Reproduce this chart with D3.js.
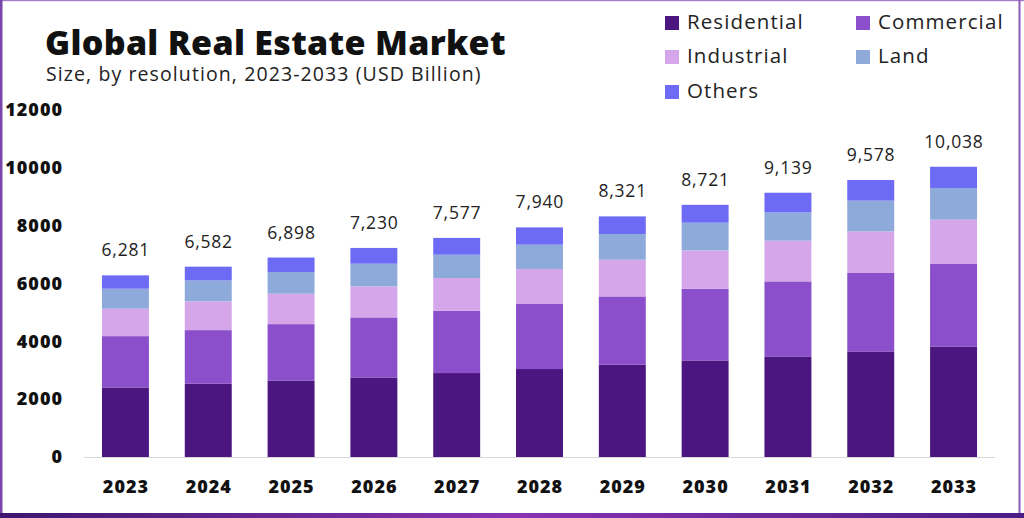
<!DOCTYPE html>
<html>
<head>
<meta charset="utf-8">
<script src="https://cdn.jsdelivr.net/npm/d3@7"></script>
<style>
  html, body { margin: 0; padding: 0; background: #fff; }
  svg { display: block; }
</style>
</head>
<body>
<svg id="chart" width="1024" height="518"></svg>
<script>
const years = ["2023","2024","2025","2026","2027","2028","2029","2030","2031","2032","2033"];
const totals = [6281, 6582, 6898, 7230, 7577, 7940, 8321, 8721, 9139, 9578, 10038];
const residential = [2405, 2533, 2647, 2751, 2903, 3042, 3190, 3339, 3478, 3651, 3823];
const commercial  = [1775, 1855, 1948, 2076, 2156, 2249, 2363, 2481, 2595, 2713, 2851];
const industrial  = [ 948,  993, 1052, 1073, 1131, 1211, 1270, 1325, 1408, 1439, 1533];
const land        = [ 692,  727,  747,  785,  806,  841,  889,  958,  979, 1062, 1097];
const others      = [ 461,  474,  504,  545,  581,  597,  609,  618,  679,  713,  734];
const seriesNames = ["Residential", "Commercial", "Industrial", "Land", "Others"];
const seriesColors = ["#4b167f", "#8b4fcb", "#d5a7ea", "#8eaadb", "#6d6af6"];
const yTicks = [0, 2000, 4000, 6000, 8000, 10000, 12000];

const seriesValues = [residential, commercial, industrial, land, others];
const keys = ["residential", "commercial", "industrial", "land", "others"];
const rows = years.map((y, i) => {
  const r = { year: y };
  keys.forEach((k, j) => r[k] = seriesValues[j][i]);
  return r;
});

const svg = d3.select("#chart");
const W = 1024, H = 518;
const FONT = "'Open Sans', sans-serif";

// frame
const defs = svg.append("defs");
const grad = defs.append("linearGradient").attr("id", "bottomGrad").attr("x1", "0").attr("x2", "1");
grad.append("stop").attr("offset", "0").attr("stop-color", "#3d1670");
grad.append("stop").attr("offset", "0.5").attr("stop-color", "#8a32b2");
grad.append("stop").attr("offset", "1").attr("stop-color", "#4a1c86");

svg.append("rect").attr("x", 0).attr("y", 0).attr("width", W).attr("height", H).attr("fill", "#fff");
svg.append("rect").attr("x", 0).attr("y", 0).attr("width", W).attr("height", 1.2).attr("fill", "#a77cc8");
svg.append("rect").attr("x", 0).attr("y", 0).attr("width", 2.5).attr("height", H).attr("fill", "#7a45ad");
svg.append("rect").attr("x", 1018.5).attr("y", 0).attr("width", 2).attr("height", H).attr("fill", "#8a5bb8");
svg.append("rect").attr("x", 0).attr("y", 513).attr("width", W).attr("height", 5).attr("fill", "url(#bottomGrad)");

// scales
const x = d3.scaleBand().domain(years).range([84, 995]).paddingInner(0.433).paddingOuter(0.217);
const y = d3.scaleLinear().domain([0, 12000]).range([457, 110]);

const stacked = d3.stack().keys(keys)(rows);

// axis line
svg.append("line")
  .attr("x1", 84).attr("x2", 995)
  .attr("y1", y(0) + 0.5).attr("y2", y(0) + 0.5)
  .attr("stroke", "#d8d8d8").attr("stroke-width", 1);

// bars
const g = svg.append("g");
stacked.forEach((layer, li) => {
  g.append("g").attr("fill", seriesColors[li])
    .selectAll("rect").data(layer).join("rect")
    .attr("x", d => x(d.data.year))
    .attr("width", x.bandwidth())
    .attr("y", d => y(d[1]))
    .attr("height", d => y(d[0]) - y(d[1]));
});

// total labels
svg.append("g").selectAll("text").data(years).join("text")
  .attr("x", d => x(d) + x.bandwidth() / 2 + 0.4)
  .attr("y", (d, i) => y(d3.sum(seriesValues, s => s[i])) - 19)
  .attr("text-anchor", "middle")
  .attr("font-family", FONT)
  .attr("font-size", 17.5)
  .attr("letter-spacing", 0.8)
  .attr("fill", "#222")
  .text((d, i) => d3.format(",")(totals[i]));

// y axis
const yAxis = d3.axisLeft(y).tickValues(yTicks).tickSize(0).tickPadding(0).tickFormat(d3.format("d"));
const ya = svg.append("g").attr("transform", "translate(63,0)").call(yAxis);
ya.select(".domain").remove();
ya.selectAll("text")
  .attr("font-family", FONT)
  .attr("font-weight", 800)
  .attr("font-size", 18)
  .attr("letter-spacing", 1)
  .attr("fill", "#111");

// x axis
const xAxis = d3.axisBottom(x).tickSize(0).tickPadding(0);
const xa = svg.append("g").attr("transform", "translate(0,480)").call(xAxis);
xa.select(".domain").remove();
xa.selectAll("text")
  .attr("font-family", FONT)
  .attr("font-weight", 800)
  .attr("font-size", 18)
  .attr("letter-spacing", 1)
  .attr("dx", 0.5)
  .attr("fill", "#111");

// title
svg.append("text").attr("x", 45).attr("y", 55)
  .attr("font-family", FONT)
  .attr("font-weight", 800)
  .attr("font-size", 34)
  .attr("letter-spacing", 0.3)
  .attr("fill", "#111")
  .text("Global Real Estate Market");
svg.append("text").attr("x", 46).attr("y", 80.5)
  .attr("font-family", FONT)
  .attr("font-size", 19.5)
  .attr("letter-spacing", 1.1)
  .attr("fill", "#222")
  .text("Size, by resolution, 2023-2033 (USD Billion)");

// legend
const legendPos = [[665, 16], [856, 16], [665, 50], [856, 50], [665, 85]];
const lg = svg.append("g").selectAll("g").data(seriesNames).join("g")
  .attr("transform", (d, i) => `translate(${legendPos[i][0]},${legendPos[i][1]})`);
lg.append("rect").attr("width", 14).attr("height", 14).attr("fill", (d, i) => seriesColors[i]);
lg.append("text").attr("x", 22).attr("y", 13)
  .attr("font-family", FONT)
  .attr("font-size", 20.5)
  .attr("letter-spacing", 1.1)
  .attr("fill", "#222")
  .text(d => d);
</script>
</body>
</html>
